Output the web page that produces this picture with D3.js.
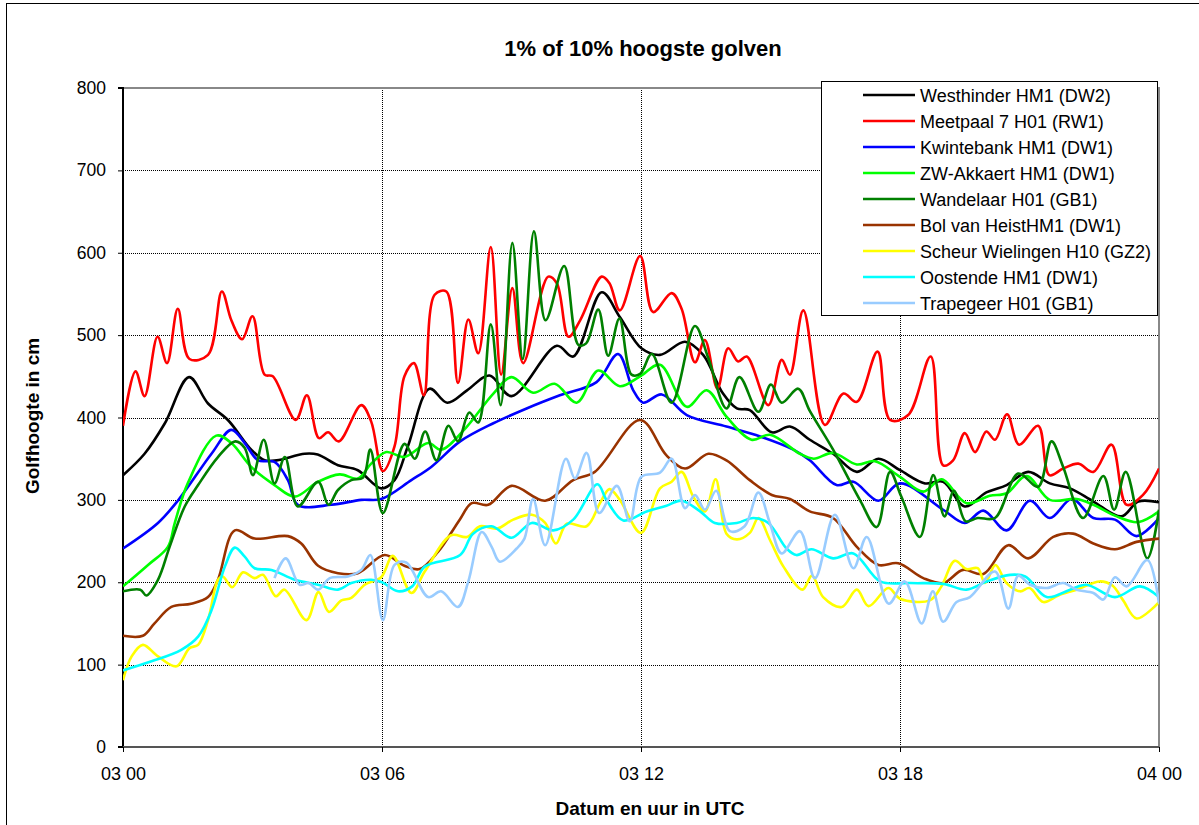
<!DOCTYPE html>
<html><head><meta charset="utf-8">
<script src="https://cdn.jsdelivr.net/npm/d3@7"></script>
<style>body{margin:0;background:#fff;} text{font-family:"Liberation Sans",Arial,sans-serif;fill:#000;}</style>
</head><body><svg id="c" width="1199" height="825"></svg>
<script>
// x in hours after 03 00 UTC, y in cm
const xTickHours = [0, 6, 12, 18, 24];
const xTickLabels = ["03 00", "03 06", "03 12", "03 18", "04 00"];
const yTicks = [0, 100, 200, 300, 400, 500, 600, 700, 800];

const seriesNames = ["Westhinder HM1 (DW2)", "Meetpaal 7 H01 (RW1)", "Kwintebank HM1 (DW1)", "ZW-Akkaert HM1 (DW1)",
  "Wandelaar H01 (GB1)", "Bol van HeistHM1 (DW1)", "Scheur Wielingen H10 (GZ2)", "Oostende HM1 (DW1)", "Trapegeer H01 (GB1)"];
const seriesColors = ["#000000", "#ff0000", "#0000ff", "#00ff00", "#008000", "#993300", "#ffff00", "#00ffff", "#99ccff"];

const westhinder = [[0,330],[0.5,356],[0.97,393],[1.53,449],[1.97,417],[2.43,397],[2.97,361],[3.28,348],[3.56,348],[4.21,356],[4.51,355],[4.98,342],[5.44,336],[5.98,314],[6.29,324],[6.6,365],[7.1,435],[7.51,418],[7.97,433],[8.49,451],[9.0,426],[10.05,487],[10.43,474],[11.09,552],[11.51,522],[12.01,484],[12.44,476],[13.02,492],[13.44,476],[13.9,429],[14.22,411],[14.52,409],[15.03,382],[15.45,389],[15.91,373],[16.45,356],[17.0,334],[17.5,350],[18.0,336],[18.58,320],[19.0,322],[19.5,292],[20.0,309],[20.47,318],[20.97,334],[21.47,320],[21.94,314],[22.48,298],[23.13,280],[23.52,298],[24,297]];
const meetpaal = [[0,390],[0.29,456],[0.5,426],[0.8,498],[1.02,466],[1.27,532],[1.54,471],[1.97,476],[2.29,553],[2.51,518],[2.76,495],[3.0,523],[3.28,452],[3.47,450],[4.0,397],[4.26,427],[4.54,375],[4.75,382],[5.0,371],[5.52,415],[5.75,395],[6.02,335],[6.29,365],[6.52,450],[6.74,466],[6.97,427],[7.22,549],[7.49,553],[7.76,442],[8.0,519],[8.23,478],[8.52,607],[8.76,452],[9.02,557],[9.27,466],[9.85,571],[10.05,563],[10.32,498],[10.59,518],[11.09,571],[11.27,563],[11.51,530],[11.98,596],[12.28,528],[12.71,551],[12.94,532],[13.25,467],[13.48,494],[13.77,435],[14.02,484],[14.25,468],[14.45,474],[14.95,415],[15.26,470],[15.45,452],[15.76,530],[16.26,391],[16.69,429],[17.0,419],[17.48,480],[17.77,397],[18.19,403],[18.71,474],[19.0,342],[19.23,348],[19.5,381],[19.74,358],[20.0,383],[20.2,373],[20.48,404],[20.76,367],[21.2,390],[21.46,330],[21.78,338],[22.13,344],[22.48,334],[22.9,367],[23.25,294],[23.63,306],[24,338]];
const kwintebank = [[0,241],[0.81,272],[1.27,299],[2.05,356],[2.51,385],[2.82,369],[3.13,348],[3.51,346],[3.82,324],[4.05,294],[4.83,294],[5.52,300],[5.98,301],[6.68,324],[7.14,340],[7.81,371],[8.58,393],[9.35,411],[10.12,427],[10.97,443],[11.47,477],[11.82,433],[12.05,418],[12.48,428],[13.06,403],[13.98,389],[14.76,377],[15.53,361],[15.91,348],[16.53,318],[16.92,322],[17.5,299],[18.0,320],[19.0,288],[19.5,272],[19.93,287],[20.47,263],[21.01,299],[21.47,278],[21.98,301],[22.48,278],[22.98,276],[23.48,256],[24,278]];
const akkaert = [[0,195],[0.58,221],[1.04,243],[1.2,272],[1.5,320],[2.16,378],[2.51,369],[2.97,340],[3.51,318],[3.98,304],[4.52,322],[5.02,331],[5.44,326],[5.75,344],[6.1,358],[6.52,352],[7.07,369],[7.37,361],[7.9,385],[8.58,429],[9.0,449],[9.5,430],[10.0,441],[10.51,418],[11.01,457],[11.51,438],[11.98,450],[12.44,464],[13.06,413],[13.52,433],[13.98,401],[14.56,373],[14.99,379],[15.68,356],[16.0,350],[16.45,357],[17.0,343],[17.42,347],[18.0,328],[18.54,310],[18.96,325],[19.54,296],[20.08,305],[20.47,308],[20.93,329],[21.47,300],[22.09,301],[22.48,294],[23.02,280],[23.52,273],[24,286]];
const wandelaar = [[0,189],[0.4,191],[0.54,184],[0.81,203],[1.08,243],[1.43,292],[1.74,318],[2.2,352],[2.6,371],[2.82,363],[3.01,330],[3.26,373],[3.51,320],[3.75,352],[4.05,292],[4.52,322],[4.76,294],[4.98,312],[5.29,324],[5.56,327],[5.73,361],[6.02,284],[6.52,368],[6.76,350],[7.0,383],[7.26,348],[7.54,390],[7.76,371],[8.02,406],[8.23,394],[8.52,513],[8.75,415],[9.02,612],[9.26,471],[9.52,626],[9.79,518],[10.22,584],[10.55,488],[10.73,490],[11.01,531],[11.24,475],[11.5,520],[11.78,452],[11.98,453],[12.25,477],[12.71,418],[13.25,511],[13.56,472],[13.98,411],[14.28,449],[14.72,407],[15.01,440],[15.26,418],[15.64,435],[15.91,408],[16.45,361],[17.07,300],[17.46,267],[17.77,334],[18.03,304],[18.46,255],[18.77,330],[19.03,280],[19.25,311],[19.52,274],[19.8,278],[20.2,278],[20.74,332],[21.2,316],[21.51,371],[21.78,340],[22.24,278],[22.71,329],[22.96,288],[23.23,334],[23.73,229],[24,288]];
const bolVanHeist = [[0,135],[0.46,135],[0.73,150],[1.12,170],[1.58,174],[1.97,182],[2.2,203],[2.59,263],[3.05,253],[3.82,256],[4.13,247],[4.52,220],[4.98,211],[5.44,211],[6.06,233],[6.52,220],[6.87,216],[7.3,237],[7.8,276],[8.08,296],[8.46,294],[9.0,317],[9.78,299],[10.43,324],[10.93,334],[11.98,397],[12.59,354],[13.02,338],[13.56,356],[13.98,348],[14.52,324],[15.03,306],[15.45,301],[15.91,286],[16.45,278],[17.0,243],[17.5,221],[17.96,223],[18.54,205],[19.0,199],[19.46,215],[19.93,210],[20.51,245],[20.97,229],[21.55,255],[22.01,259],[22.48,247],[22.98,240],[23.48,249],[24,253]];
const scheurWielingen = [[0,81],[0.2,110],[0.46,124],[0.81,110],[1.24,98],[1.54,120],[1.74,124],[1.97,154],[2.2,203],[2.31,207],[2.53,194],[2.78,212],[3.05,205],[3.24,209],[3.54,183],[3.74,191],[4.25,154],[4.53,188],[4.77,164],[5.06,178],[5.29,181],[5.6,197],[5.98,206],[6.25,232],[6.68,187],[6.99,213],[7.6,257],[7.97,255],[8.27,268],[8.66,265],[9.04,276],[9.47,282],[9.78,272],[10.03,247],[10.28,271],[10.74,268],[11.05,296],[11.27,313],[11.51,300],[12.0,260],[12.44,314],[12.71,322],[12.94,334],[13.21,304],[13.48,286],[13.73,325],[13.98,259],[14.22,252],[14.52,260],[14.72,278],[14.99,251],[15.3,219],[15.74,191],[15.96,208],[16.22,182],[16.65,170],[17.0,191],[17.27,171],[17.73,193],[18.0,180],[18.69,178],[18.96,195],[19.27,226],[19.54,216],[19.8,217],[19.97,199],[20.21,221],[20.47,199],[20.78,189],[21.0,193],[21.32,176],[21.67,184],[22.09,191],[22.63,201],[22.92,196],[23.17,178],[23.48,156],[24,176]];
const oostende = [[0,93],[0.66,104],[1.35,118],[1.74,134],[2.05,166],[2.36,219],[2.59,242],[2.82,231],[3.05,217],[3.44,215],[3.98,203],[4.52,197],[4.98,191],[5.29,199],[5.75,203],[6.0,200],[6.37,189],[6.7,195],[6.99,219],[7.81,233],[8.11,259],[8.54,268],[9.0,254],[9.47,272],[9.97,263],[10.43,276],[10.99,319],[11.2,300],[11.59,275],[12.13,286],[12.59,293],[12.94,299],[13.37,286],[13.71,272],[14.22,272],[14.6,278],[14.95,272],[15.37,241],[15.6,233],[15.95,240],[16.45,229],[16.92,235],[17.54,201],[18.23,199],[19.0,198],[19.54,191],[20.01,201],[20.55,209],[20.9,207],[21.4,182],[21.94,191],[22.32,197],[22.98,182],[23.56,195],[24,182]];
const trapegeer = [[3.51,205],[3.77,229],[4.09,197],[4.3,199],[4.52,191],[4.79,205],[5.21,207],[5.52,215],[5.73,233],[6.02,154],[6.29,221],[6.56,224],[7.07,182],[7.37,189],[7.76,170],[8.0,201],[8.31,261],[8.54,243],[8.73,225],[9.12,241],[9.3,253],[9.5,301],[9.78,245],[10.26,350],[10.47,326],[10.74,357],[11.03,284],[11.44,317],[11.74,274],[12.01,328],[12.44,333],[12.71,350],[13.02,290],[13.25,306],[13.48,288],[13.74,311],[14.06,262],[14.4,268],[14.72,309],[14.99,271],[15.26,235],[15.68,262],[16.03,205],[16.49,282],[16.92,217],[17.23,255],[17.74,174],[18.11,201],[18.5,150],[18.76,189],[19.0,152],[19.31,176],[19.62,182],[20.2,213],[20.51,168],[20.74,208],[21.01,197],[21.4,193],[21.78,199],[22.09,191],[22.48,187],[22.71,179],[22.98,206],[23.25,195],[23.73,227],[24,174]];

const seriesData = [westhinder, meetpaal, kwintebank, akkaert, wandelaar, bolVanHeist, scheurWielingen, oostende, trapegeer];

const svg = d3.select("#c");
const L = 123, R = 1159, T = 88, B = 747;
const x = d3.scaleLinear().domain([0, 24]).range([L, R]);
const y = d3.scaleLinear().domain([0, 800]).range([B, T]);

// outer frame
svg.append("rect").attr("x", 6.5).attr("y", 3.5).attr("width", 1220).attr("height", 840)
  .attr("fill", "none").attr("stroke", "#000").attr("stroke-width", 1);

// gridlines
svg.append("g").selectAll("line").data(yTicks.filter(d => d > 0 && d < 800)).join("line")
  .attr("x1", L).attr("x2", R).attr("y1", d => Math.round(y(d)) + 0.5).attr("y2", d => Math.round(y(d)) + 0.5)
  .attr("stroke", "#000").attr("stroke-width", 1).attr("stroke-dasharray", "1,1");
svg.append("g").selectAll("line").data(xTickHours.filter(d => d > 0 && d < 24)).join("line")
  .attr("y1", T).attr("y2", B).attr("x1", d => Math.round(x(d)) + 0.5).attr("x2", d => Math.round(x(d)) + 0.5)
  .attr("stroke", "#000").attr("stroke-width", 1).attr("stroke-dasharray", "1,1");

// plot border (grey top/right)
svg.append("line").attr("x1", L).attr("x2", R + 1).attr("y1", T).attr("y2", T).attr("stroke", "#888").attr("stroke-width", 2);
svg.append("line").attr("x1", R).attr("x2", R).attr("y1", T).attr("y2", B).attr("stroke", "#888").attr("stroke-width", 2);

// axes
const yAxis = d3.axisLeft(y).tickValues(yTicks).tickSize(5).tickFormat(d3.format("d"));
const gy = svg.append("g").attr("transform", `translate(${L},0)`).call(yAxis);
gy.select(".domain").attr("stroke", "#000").attr("stroke-width", 2).attr("d", `M-5,${T}H0V${B}H-5`);
gy.selectAll(".tick line").attr("stroke", "#000");
gy.selectAll(".tick text").attr("font-size", 17.5).attr("x", -17).attr("font-family", "Liberation Sans, Arial, sans-serif");

const xAxis = d3.axisBottom(x).tickValues(xTickHours).tickSize(5).tickFormat((d, i) => xTickLabels[i]);
const gx = svg.append("g").attr("transform", `translate(0,${B})`).call(xAxis);
gx.select(".domain").attr("stroke", "#555").attr("stroke-width", 2).attr("d", `M${L},0H${R}`);
gx.selectAll(".tick line").attr("stroke", "#000");
gx.selectAll(".tick text").attr("font-size", 18).attr("y", 20).attr("font-family", "Liberation Sans, Arial, sans-serif");

// clip
svg.append("clipPath").attr("id", "pc").append("rect").attr("x", L).attr("y", T - 2).attr("width", R - L).attr("height", B - T + 2);

const line = d3.line().x(d => x(d[0])).y(d => y(d[1])).curve(d3.curveCatmullRom.alpha(0.5));
svg.append("g").attr("clip-path", "url(#pc)").selectAll("path").data(seriesData).join("path")
  .attr("d", line).attr("fill", "none").attr("stroke", (d, i) => seriesColors[i])
  .attr("stroke-width", 2.6).attr("stroke-linejoin", "round");

// titles
svg.append("text").attr("x", 643).attr("y", 56).attr("text-anchor", "middle")
  .attr("font-size", 22).attr("font-weight", "bold").text("1% of 10% hoogste golven");
svg.append("text").attr("transform", "translate(39,416) rotate(-90)").attr("text-anchor", "middle")
  .attr("font-size", 19).attr("font-weight", "bold").text("Golfhoogte in cm");
svg.append("text").attr("x", 650).attr("y", 815).attr("text-anchor", "middle")
  .attr("font-size", 19).attr("font-weight", "bold").text("Datum en uur in UTC");

// legend
const lg = svg.append("g");
lg.append("rect").attr("x", 821.5).attr("y", 81.5).attr("width", 336).attr("height", 234)
  .attr("fill", "#fff").attr("stroke", "#000").attr("stroke-width", 1);
const items = lg.selectAll("g.it").data(seriesNames).join("g").attr("class", "it")
  .attr("transform", (d, i) => `translate(0,${95 + i * 26})`);
items.append("line").attr("x1", 863).attr("x2", 915).attr("y1", 0).attr("y2", 0)
  .attr("stroke", (d, i) => seriesColors[i]).attr("stroke-width", 2.6);
items.append("text").attr("x", 920).attr("y", 6.5).attr("font-size", 18).text(d => d);
</script></body></html>
